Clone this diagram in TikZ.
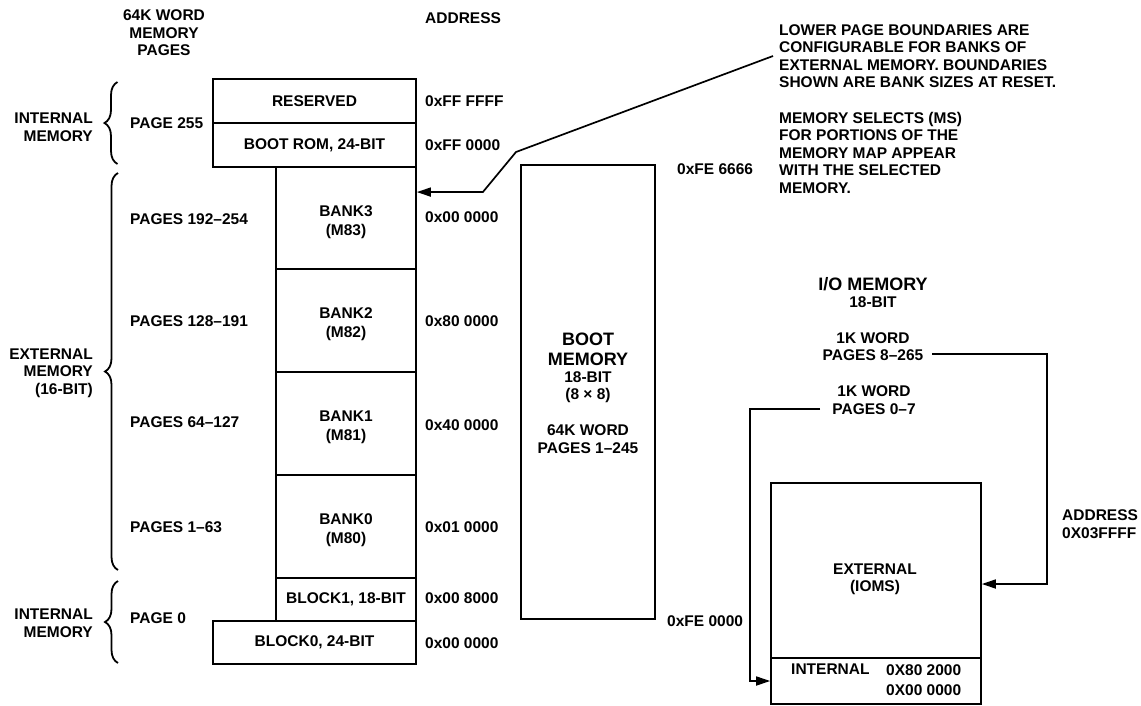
\documentclass[tikz,border=0pt]{standalone}
\usepackage{fontspec}
\setmainfont{Liberation Sans}
\usetikzlibrary{arrows.meta,decorations.pathreplacing,calc}
\newcommand\txtsz{\fontsize{15.5}{17.5}\selectfont}
\newcommand\bigsz{\fontsize{18}{20}\selectfont}
\begin{document}
\begin{tikzpicture}[x=1pt,y=-1pt,
  every node/.style={font=\bfseries\txtsz, inner sep=0pt, text=black},
  mbox/.style={draw, line width=1.7pt, rectangle, align=center},
  brc/.style={decorate, decoration={brace, amplitude=13pt}, line width=1.8pt},
  conn/.style={draw, line width=1.7pt, -{Triangle[length=14pt,width=9pt]}}]
\useasboundingbox (0,0) rectangle (1141,705);

% headers
\node[align=center] (hdrpages) at (164,33) {64K WORD\\MEMORY\\PAGES};
\node[anchor=west] (hdraddr) at (425,18.5) {ADDRESS};

% memory stack
\node[mbox, minimum width=203, minimum height=44] (reserved) at (314.5,101) {RESERVED};
\node[mbox, minimum width=203, minimum height=44] (bootrom) at (314.5,145) {BOOT ROM, 24-BIT};
\node[mbox, minimum width=140, minimum height=102] (bank3) at (346,218) {};
\node[mbox, minimum width=140, minimum height=103] (bank2) at (346,320.5) {};
\node[mbox, minimum width=140, minimum height=103] (bank1) at (346,423.5) {};
\node[mbox, minimum width=140, minimum height=103] (bank0) at (346,526.5) {};
\node[align=center] (bank3lbl) at ($(bank3.center)+(0,4)$) {BANK3\\[1.5pt](M83)};
\node[align=center] (bank2lbl) at ($(bank2.center)+(0,4)$) {BANK2\\[1.5pt](M82)};
\node[align=center] (bank1lbl) at ($(bank1.center)+(0,4)$) {BANK1\\[1.5pt](M81)};
\node[align=center] (bank0lbl) at ($(bank0.center)+(0,4)$) {BANK0\\[1.5pt](M80)};
\node[mbox, minimum width=140, minimum height=43] (block1) at (346,599.5) {BLOCK1, 18-BIT};
\node[mbox, minimum width=203, minimum height=43] (block0) at (314.5,642.5) {BLOCK0, 24-BIT};

% addresses
\node[anchor=west] (aFFFFFF) at (425,101) {0xFF FFFF};
\node[anchor=west] (aFF0000) at (425,145) {0xFF 0000};
\node[anchor=west] (a000000b) at (425,217) {0x00 0000};
\node[anchor=west] (a800000) at (425,321) {0x80 0000};
\node[anchor=west] (a400000) at (425,425) {0x40 0000};
\node[anchor=west] (a010000) at (425,527) {0x01 0000};
\node[anchor=west] (a008000) at (425,598) {0x00 8000};
\node[anchor=west] (a000000) at (425,643) {0x00 0000};

% page labels
\node[anchor=west] (pg255) at (130,122.7) {PAGE 255};
\node[anchor=west] (pg192) at (130,219) {PAGES 192–254};
\node[anchor=west] (pg128) at (130,321) {PAGES 128–191};
\node[anchor=west] (pg64) at (130,422.5) {PAGES 64–127};
\node[anchor=west] (pg1) at (130,527) {PAGES 1–63};
\node[anchor=west] (pg0) at (130,618.5) {PAGE 0};

% region labels and braces
\node[anchor=east, align=right] (intmemtop) at (93,127) {INTERNAL\\MEMORY};
\node[anchor=east, align=right] (extmem) at (93,373) {EXTERNAL\\MEMORY\\(16-BIT)};
\node[anchor=east, align=right] (intmembot) at (93,623) {INTERNAL\\MEMORY};
\draw[brc] (117.5,164) -- (117.5,82);
\draw[brc] (118,570) -- (118,173);
\draw[brc] (118,663) -- (118,581);

% note
\node[anchor=north west, align=left] (note1) at (779,24) {LOWER PAGE BOUNDARIES ARE\\CONFIGURABLE FOR BANKS OF\\EXTERNAL MEMORY. BOUNDARIES\\SHOWN ARE BANK SIZES AT RESET.};
\node[anchor=north west, align=left] (note2) at (779,111.7) {MEMORY SELECTS (MS)\\FOR PORTIONS OF THE\\MEMORY MAP APPEAR\\WITH THE SELECTED\\MEMORY.};
\coordinate (notetip) at ($(note1.north west)+(-6,32)$);
\coordinate (b3in) at ($(bank3.north east)!0.25!(bank3.south east)$);
\draw[conn] (notetip) -- (516,152) -- ($(b3in)+(66,0)$) -- (b3in);

% boot memory
\node[mbox, minimum width=134, minimum height=454] (bootmem) at (588,392) {};
\node[font=\bfseries\bigsz, align=center] (boottitle) at (588,349.5) {BOOT\\MEMORY};
\node[align=center] (bootbits) at (588,387) {18-BIT\\(8 × 8)};
\node[align=center] (bootpages) at (588,439.4) {64K WORD\\PAGES 1–245};
\node[anchor=west] (fe6666) at (677,169) {0xFE 6666};
\node[anchor=west] (fe0000) at (667,621) {0xFE 0000};

% I/O memory
\node[font=\bfseries\bigsz] (iotitle) at (873,284) {I/O MEMORY};
\node (iobits) at (873,302.5) {18-BIT};
\node[align=center] (p8) at (873,346.8) {1K WORD\\PAGES 8–265};
\node[align=center] (p0) at (874,400) {1K WORD\\PAGES 0–7};
\node[mbox, minimum width=210, minimum height=175] (ioext) at (876,570.5) {};
\node[align=center] (ioextlbl) at (875,579.5) {EXTERNAL\\(IOMS)};
\node[mbox, minimum width=210, minimum height=46] (ioint) at (876,681) {};
\node[anchor=west] (iointlbl) at (791,669.5) {INTERNAL};
\node[anchor=north west, align=left] (iointaddr) at (886,664) {0X80 2000\\[3pt]0X00 0000};
\node[anchor=west, align=left] (ioaddr) at (1062,524) {ADDRESS\\0X03FFFF};

\coordinate (p8out) at ($(p8.east)+(9,7.5)$);
\coordinate (ioarr) at ($(ioext.east)+(0,13.5)$);
\draw[conn] (p8out) -| ($(ioarr)+(65,0)$) -- (ioarr);
\coordinate (p0out) at ($(p0.west)+(-12,9)$);
\draw[conn] (p0out) -| ($(ioint.west)+(-20,0)$) -- (ioint.west);
\end{tikzpicture}
\end{document}
